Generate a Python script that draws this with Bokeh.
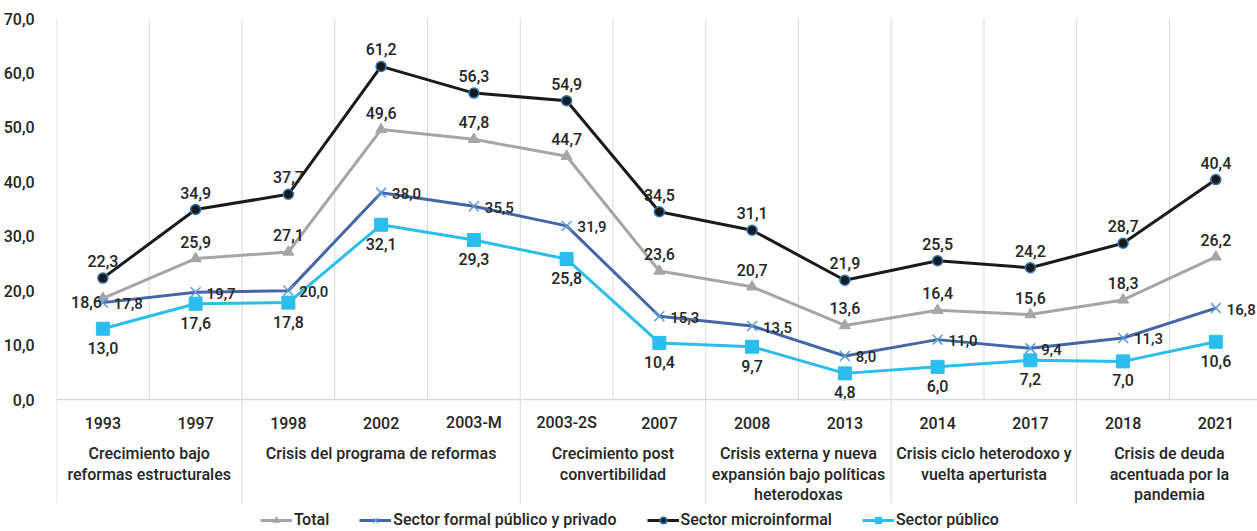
from bokeh.plotting import figure
from bokeh.models import Range1d, FixedTicker, Legend, LegendItem, Span
from bokeh.core.properties import value
from bokeh.embed import file_html
from bokeh.resources import INLINE

# ---------------- data ----------------
years = ["1993", "1997", "1998", "2002", "2003-M", "2003-2S", "2007",
         "2008", "2013", "2014", "2017", "2018", "2021"]
total = [18.6, 25.9, 27.1, 49.6, 47.8, 44.7, 23.6, 20.7, 13.6, 16.4, 15.6, 18.3, 26.2]
formal = [17.8, 19.7, 20.0, 38.0, 35.5, 31.9, 15.3, 13.5, 8.0, 11.0, 9.4, 11.3, 16.8]
micro = [22.3, 34.9, 37.7, 61.2, 56.3, 54.9, 34.5, 31.1, 21.9, 25.5, 24.2, 28.7, 40.4]
publico = [13.0, 17.6, 17.8, 32.1, 29.3, 25.8, 10.4, 9.7, 4.8, 6.0, 7.2, 7.0, 10.6]
groups = ["Crecimiento bajo\nreformas estructurales",
          "Crisis del programa de reformas",
          "Crecimiento post\nconvertibilidad",
          "Crisis externa y nueva\nexpansión bajo políticas\nheterodoxas",
          "Crisis ciclo heterodoxo y\nvuelta aperturista",
          "Crisis de deuda\nacentuada por la\npandemia"]
group_sizes = [2, 3, 2, 2, 2, 2]
y_ticks = [0, 10, 20, 30, 40, 50, 60, 70]
series_names = ["Total", "Sector formal público y privado",
                "Sector microinformal", "Sector público"]

# ---------------- layout constants ----------------
W, H = 1257, 531
FONT = "Roboto Medium, Roboto"
TXT = "#262626"
GRID = "#D9D9D9"
frame_left, frame_top = 54, 18
frame_w = W - frame_left
frame_h = H - frame_top
cat_px = 92.9
px_per_unit = 381 / 70.0
zero_px_from_top = 381
x_start = -0.5
x_end = x_start + frame_w / cat_px
y_top = 70
y_bot = -(frame_h - zero_px_from_top) / px_per_unit


def px_down(px):
    return -px / px_per_unit


p = figure(width=W, height=H, output_backend="svg", toolbar_location=None,
           x_range=Range1d(x_start, x_end), y_range=Range1d(y_bot, y_top),
           x_axis_location=None,
           min_border_left=frame_left, min_border_right=0,
           min_border_top=frame_top, min_border_bottom=0)
p.outline_line_color = None
p.xgrid.visible = False
p.ygrid.visible = False
p.background_fill_color = "white"

ya = p.yaxis[0]
ya.ticker = FixedTicker(ticks=y_ticks)
ya.major_label_overrides = {t: f"{t:.1f}".replace(".", ",") for t in y_ticks}
ya.axis_line_color = None
ya.major_tick_line_color = None
ya.minor_tick_line_color = None
ya.major_label_standoff = 16
ya.major_label_text_font = FONT
ya.major_label_text_font_size = "16px"
ya.major_label_text_color = TXT

n = len(years)
xs = list(range(n))

# vertical gridlines (category boundaries) inside the plot area
bounds = [i - 0.5 for i in range(n + 1)]
p.segment(x0=bounds, y0=[0] * len(bounds), x1=bounds, y1=[70] * len(bounds),
          line_color=GRID, line_width=1)
# group separators below the axis
gb = [-0.5]
for s in group_sizes:
    gb.append(gb[-1] + s)
sep_bottom = px_down(104)
p.segment(x0=gb, y0=[0] * len(gb), x1=gb, y1=[sep_bottom] * len(gb),
          line_color=GRID, line_width=1)
p.add_layout(Span(location=0, dimension="width", line_color=GRID, line_width=1.5))

# category labels
p.text(x=xs, y=[px_down(23)] * n, text=years, text_font=value(FONT),
       text_font_size="16px", text_color=TXT, text_align="center",
       text_baseline="middle")

# group labels (one line at a time)
gx, gy, gt = [], [], []
start = 0
for g, s in zip(groups, group_sizes):
    cx = start + (s - 1) / 2.0
    for j, line in enumerate(g.split("\n")):
        gx.append(cx)
        gy.append(px_down(54 + j * 20.5))
        gt.append(line)
    start += s
p.text(x=gx, y=gy, text=gt, text_font=value(FONT), text_font_size="16px",
       text_color=TXT, text_align="center", text_baseline="middle")

# ---------------- series ----------------
def fmt(vals):
    return [f"{v:.1f}".replace(".", ",") for v in vals]

c_total, c_formal, c_micro, c_pub = "#A5A5A5", "#4466A8", "#1A1A1A", "#2BBDED"

r_tot_l = p.line(xs, total, line_color=c_total, line_width=3)
r_tot_m = p.scatter(xs, total, marker="triangle", size=11, fill_color=c_total,
                    line_color=c_total)
r_for_l = p.line(xs, formal, line_color=c_formal, line_width=3)
r_for_m = p.scatter(xs, formal, marker="x", size=14, line_color="#5B9BD5",
                    line_width=1.5)
r_mic_l = p.line(xs, micro, line_color=c_micro, line_width=3)
r_mic_m = p.scatter(xs, micro, marker="circle", size=10, fill_color=c_micro,
                    line_color="#2E75B6", line_width=1.5)
r_pub_l = p.line(xs, publico, line_color=c_pub, line_width=3)
r_pub_m = p.scatter(xs, publico, marker="square", size=13, fill_color=c_pub,
                    line_color=c_pub)

lbl = dict(text_font=value(FONT), text_font_size="16px", text_color=TXT)

# micro: above
p.text(xs, micro, text=fmt(micro), text_align="center", text_baseline="bottom",
       y_offset=-11, **lbl)
# total: above (first one to the left)
p.text(xs[1:], total[1:], text=fmt(total)[1:], text_align="center",
       text_baseline="bottom", y_offset=-11, **lbl)
p.text(xs[:1], total[:1], text=fmt(total)[:1], text_align="right",
       text_baseline="middle", x_offset=-1, y_offset=4, **lbl)
# formal: right
p.text(xs, formal, text=fmt(formal), text_align="left", text_baseline="middle",
       x_offset=11, y_offset=1, text_font=value(FONT), text_font_size="15px",
       text_color=TXT)
# publico: below
p.text(xs, publico, text=fmt(publico), text_align="center", text_baseline="top",
       y_offset=13, **lbl)

legend = Legend(items=[
    LegendItem(label=series_names[0], renderers=[r_tot_l, r_tot_m]),
    LegendItem(label=series_names[1], renderers=[r_for_l, r_for_m]),
    LegendItem(label=series_names[2], renderers=[r_mic_l, r_mic_m]),
    LegendItem(label=series_names[3], renderers=[r_pub_l, r_pub_m]),
], location=(204, 2), orientation="horizontal")
legend.label_text_font = FONT
legend.label_text_font_size = "16px"
legend.label_text_color = TXT
legend.glyph_width = 32
legend.glyph_height = 16
legend.label_height = 16
legend.label_standoff = 2
legend.spacing = 30
legend.padding = 0
legend.margin = 0
legend.border_line_color = None
legend.background_fill_alpha = 0
p.add_layout(legend)

open("out.html", "w").write(file_html(p, INLINE))
